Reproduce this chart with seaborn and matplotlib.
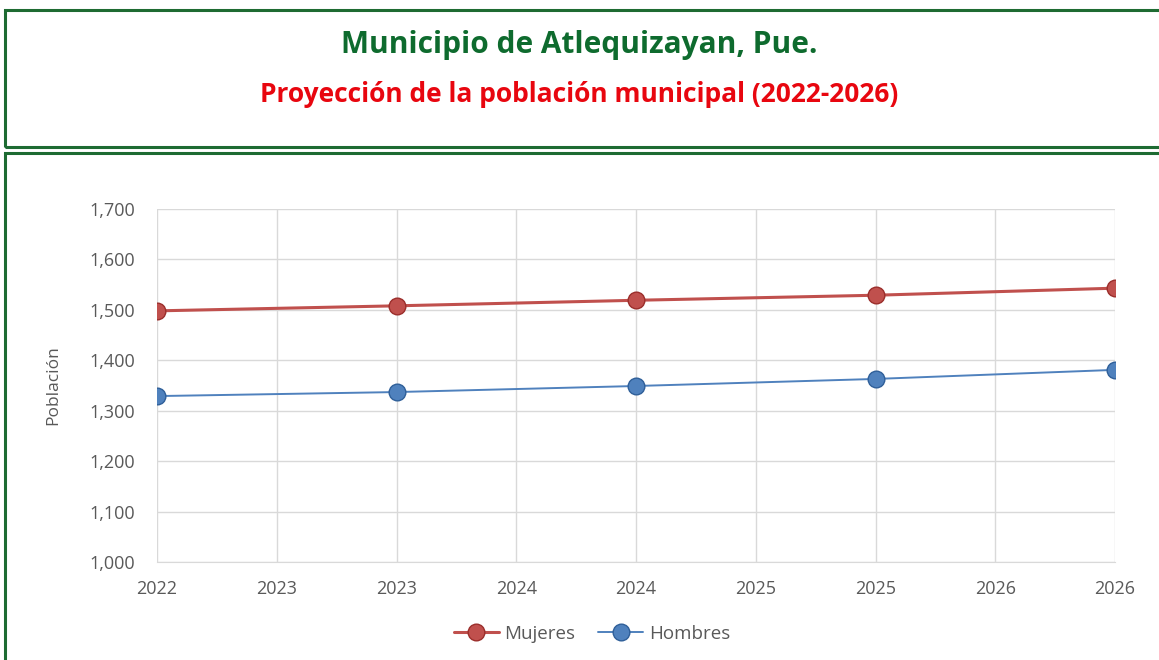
import matplotlib
matplotlib.use("Agg")
import matplotlib.pyplot as plt
from matplotlib.patches import Rectangle
from matplotlib.ticker import FuncFormatter
import pandas as pd
import seaborn as sns

# data
years = [2022, 2023, 2024, 2025, 2026]
mujeres = [1498, 1508, 1519, 1529, 1543]
hombres = [1329, 1337, 1349, 1363, 1381]
tick_labels = ["2022", "2023", "2023", "2024", "2024", "2025", "2025", "2026", "2026"]
series_names = ["Mujeres", "Hombres"]

sns.set_style("white")
plt.rcParams["font.family"] = ["Open Sans", "DejaVu Sans"]

pos = [2 * i for i in range(len(years))]
df = pd.DataFrame({
    "pos": pos * 2,
    "Población": mujeres + hombres,
    "serie": [series_names[0]] * len(years) + [series_names[1]] * len(years),
})

fig = plt.figure(figsize=(11.59, 6.6), dpi=100)

# framed boxes
green = "#1E6B32"
fig.patches.append(Rectangle((5 / 1159, 1 - 147 / 660), 1.2, 137 / 660, transform=fig.transFigure,
                             fill=False, edgecolor=green, linewidth=2.2))
fig.patches.append(Rectangle((5 / 1159, -0.1), 1.2, 1 - 153 / 660 + 0.1, transform=fig.transFigure,
                             fill=False, edgecolor=green, linewidth=2.2))

fig.text(0.5, 1 - 45 / 660, "Municipio de Atlequizayan, Pue.", ha="center", va="center",
         fontsize=21.5, fontweight="bold", color="#0E6B2E")
fig.text(0.5, 1 - 95 / 660, "Proyección de la población municipal (2022-2026)", ha="center",
         va="center", fontsize=19, fontweight="bold", color="#E8060F")

ax = fig.add_axes([157 / 1159, 1 - 562 / 660, (1115 - 157) / 1159, (562 - 209) / 660])
palette = {"Mujeres": "#C0504D", "Hombres": "#4F81BD"}
edges = {"Mujeres": "#9B2E2B", "Hombres": "#2F5F99"}
lw = {"Mujeres": 2.2, "Hombres": 1.4}
for name in series_names:
    sub = df[df["serie"] == name]
    sns.lineplot(data=sub, x="pos", y="Población", ax=ax, color=palette[name], linewidth=lw[name],
                 marker="o", markersize=12, markeredgecolor=edges[name], markeredgewidth=1,
                 label=name, zorder=3)

ax.set_xlim(0, 8)
ax.set_ylim(1000, 1700)
ax.set_xticks(range(len(tick_labels)))
ax.set_xticklabels(tick_labels)
ax.set_yticks(range(1000, 1701, 100))
ax.yaxis.set_major_formatter(FuncFormatter(lambda v, p: f"{int(v):,}"))
ax.grid(True, color="#D9D9D9", linewidth=1)
for s in ax.spines.values():
    s.set_visible(False)
ax.spines["bottom"].set_visible(True)
ax.spines["bottom"].set_color("#D9D9D9")
ax.tick_params(axis="both", length=0, labelsize=13, labelcolor="#595959")
ax.tick_params(axis="y", pad=16)
ax.tick_params(axis="x", pad=13)
ax.set_xlabel("")
ax.set_ylabel("Población", fontsize=12.5, color="#595959", labelpad=20)

# legend is centred on the chart frame, not the axes
ax.legend(loc="upper center", bbox_to_anchor=(0.454, -0.13), ncol=2, frameon=False,
          fontsize=13.5, labelcolor="#595959", handlelength=2.4, handletextpad=0.3,
          columnspacing=1.2)

fig.savefig("out.png", dpi=100)
